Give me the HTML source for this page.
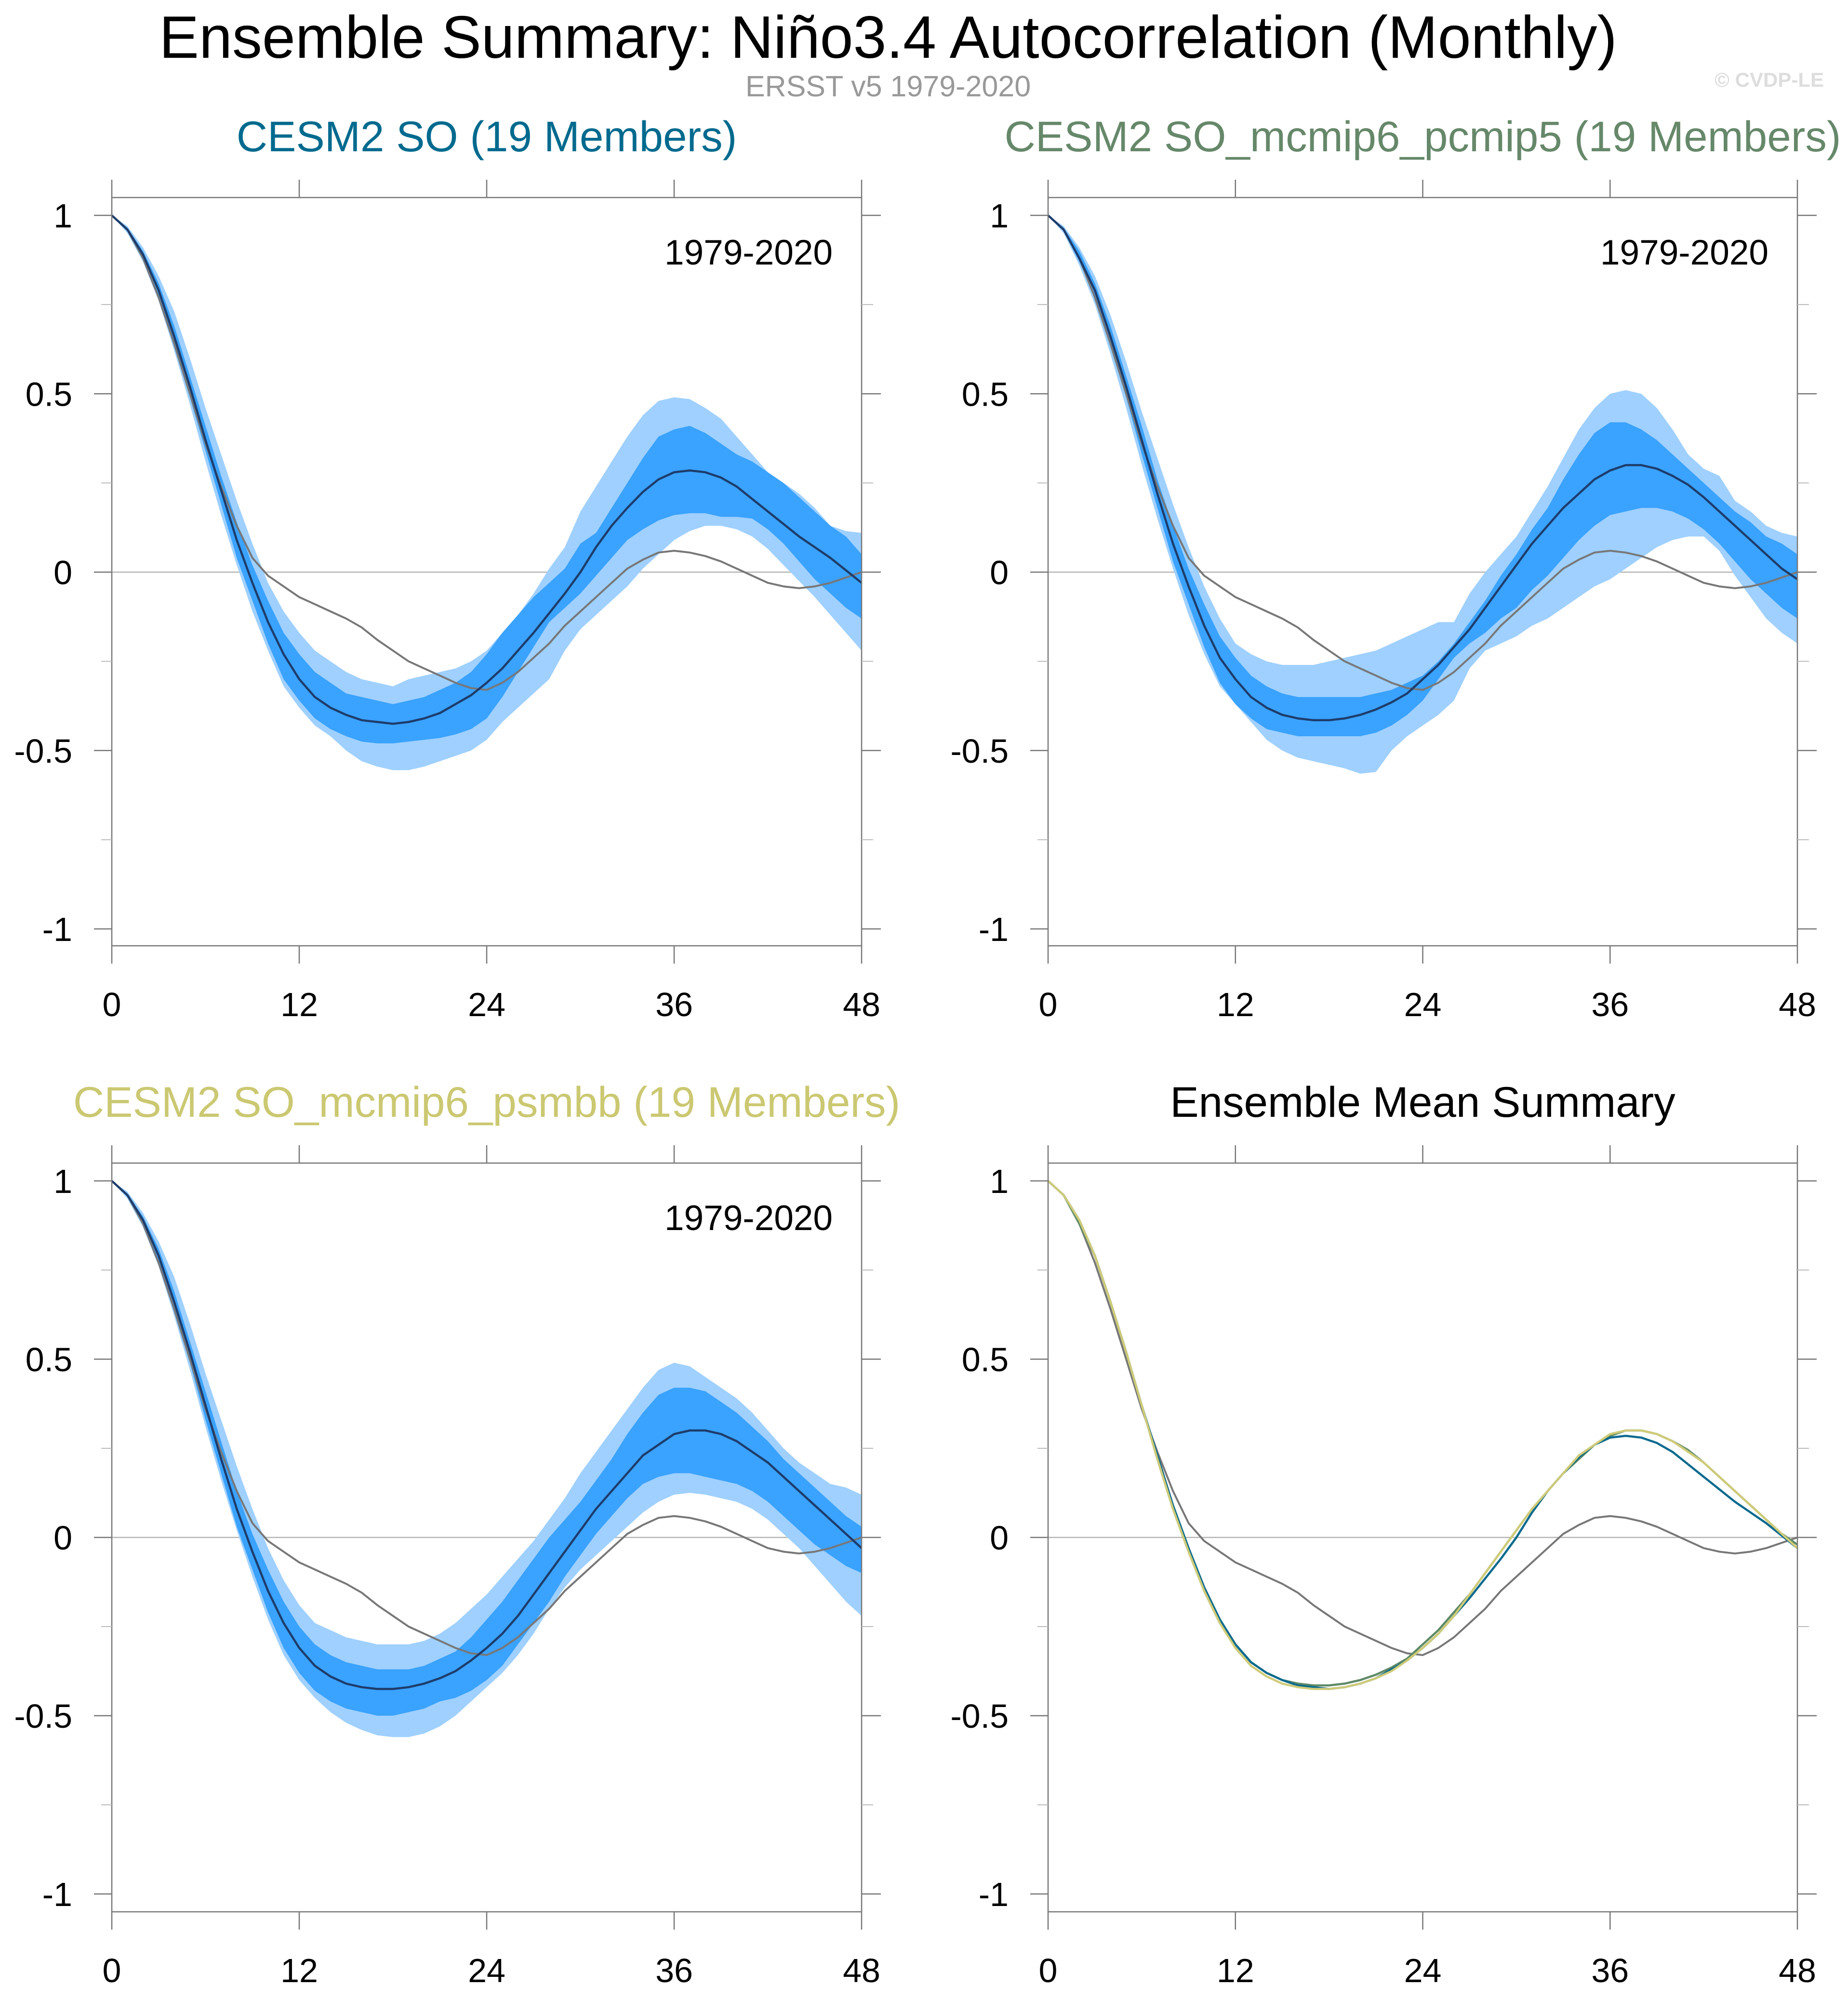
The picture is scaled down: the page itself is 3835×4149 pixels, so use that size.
<!DOCTYPE html>
<html><head><meta charset="utf-8">
<style>
html,body{margin:0;padding:0;background:#fff;}
svg{display:block;font-family:"Liberation Sans",sans-serif;}
</style></head>
<body>
<svg id="chart" width="3835" height="4149" viewBox="0 0 3835 4149" xmlns="http://www.w3.org/2000/svg">
<rect width="3835" height="4149" fill="#fff"/>
<text x="1843" y="120" font-size="124" text-anchor="middle" fill="#000">Ensemble Summary: Niño3.4 Autocorrelation (Monthly)</text>
<text x="1843" y="200" font-size="61" text-anchor="middle" fill="#999">ERSST v5 1979-2020</text>
<text x="3785" y="180" font-size="42" font-weight="bold" text-anchor="end" fill="#ddd">© CVDP-LE</text>
<g id="panels"></g>
</svg>
<script>
const months = [0,1,2,3,4,5,6,7,8,9,10,11,12,13,14,15,16,17,18,19,20,21,22,23,24,25,26,27,28,29,30,31,32,33,34,35,36,37,38,39,40,41,42,43,44,45,46,47,48];
const xTicks = [0,12,24,36,48];
const yTicks = [1,0.5,0,-0.5,-1];
const yMinor = [0.75,0.25,-0.25,-0.75];
const yTickLabels = ["1","0.5","0","-0.5","-1"];
const panelTitles = ["CESM2 SO (19 Members)","CESM2 SO_mcmip6_pcmip5 (19 Members)","CESM2 SO_mcmip6_psmbb (19 Members)","Ensemble Mean Summary"];
const periodLabel = "1979-2020";

const obs = [1,.96,.88,.77,.64,.5,.36,.24,.13,.04,-.01,-.04,-.07,-.09,-.11,-.13,-.155,-.19,-.22,-.25,-.27,-.29,-.31,-.325,-.33,-.31,-.28,-.24,-.2,-.15,-.11,-.07,-.03,.01,.035,.055,.06,.055,.045,.03,.01,-.01,-.03,-.04,-.045,-.04,-.03,-.015,0];

const mean1 = [1,.96,.89,.79,.66,.52,.37,.23,.09,-.03,-.14,-.23,-.3,-.35,-.38,-.4,-.415,-.42,-.425,-.42,-.41,-.395,-.37,-.345,-.31,-.27,-.22,-.17,-.115,-.06,0,.07,.13,.18,.225,.26,.28,.285,.28,.265,.24,.205,.17,.135,.1,.07,.04,.005,-.03];
const darkHi1 = [1,.965,.9,.81,.69,.55,.41,.27,.14,.02,-.08,-.17,-.23,-.28,-.31,-.34,-.35,-.36,-.37,-.36,-.35,-.33,-.31,-.28,-.23,-.17,-.12,-.07,-.03,.01,.08,.11,.18,.25,.32,.38,.4,.41,.39,.36,.33,.31,.28,.25,.21,.17,.13,.1,.05];
const darkLo1 = [1,.955,.88,.77,.63,.49,.34,.19,.04,-.08,-.2,-.3,-.36,-.41,-.44,-.46,-.475,-.48,-.48,-.475,-.47,-.465,-.455,-.44,-.41,-.35,-.28,-.21,-.14,-.1,-.06,-.01,.04,.09,.12,.145,.16,.165,.165,.155,.155,.15,.12,.08,.03,-.02,-.06,-.1,-.13];
const lightHi1 = [1,.97,.91,.83,.73,.6,.46,.33,.2,.08,-.03,-.11,-.17,-.22,-.25,-.28,-.3,-.31,-.32,-.3,-.29,-.28,-.27,-.25,-.22,-.17,-.12,-.06,.01,.07,.17,.24,.31,.38,.44,.48,.49,.485,.46,.43,.38,.33,.28,.25,.22,.18,.13,.115,.11];
const lightLo1 = [1,.95,.87,.76,.62,.47,.31,.16,.02,-.11,-.22,-.32,-.38,-.43,-.46,-.5,-.53,-.545,-.555,-.555,-.545,-.53,-.515,-.5,-.47,-.42,-.38,-.34,-.3,-.22,-.16,-.12,-.08,-.04,.01,.05,.09,.115,.13,.13,.12,.1,.065,.02,-.025,-.07,-.12,-.17,-.22];

const mean2 = [1,.96,.88,.79,.66,.52,.37,.22,.08,-.04,-.15,-.24,-.3,-.35,-.38,-.4,-.41,-.415,-.415,-.41,-.4,-.385,-.365,-.34,-.3,-.26,-.21,-.16,-.1,-.04,.02,.08,.13,.18,.22,.26,.285,.3,.3,.29,.27,.245,.21,.17,.13,.09,.05,.01,-.02];
const darkHi2 = [1,.965,.9,.81,.69,.55,.41,.26,.13,.01,-.09,-.18,-.24,-.29,-.32,-.34,-.35,-.35,-.35,-.35,-.35,-.34,-.33,-.31,-.29,-.25,-.2,-.14,-.08,-.01,.05,.12,.18,.26,.33,.39,.42,.42,.4,.37,.33,.29,.25,.21,.17,.14,.1,.08,.05];
const darkLo2 = [1,.955,.87,.77,.63,.49,.33,.18,.03,-.09,-.21,-.31,-.37,-.41,-.44,-.45,-.46,-.46,-.46,-.46,-.46,-.45,-.43,-.4,-.36,-.3,-.24,-.2,-.17,-.13,-.1,-.05,-.01,.04,.09,.13,.16,.17,.18,.18,.17,.15,.12,.08,.03,-.02,-.06,-.1,-.13];
const lightHi2 = [1,.97,.91,.83,.72,.59,.45,.32,.19,.07,-.04,-.13,-.2,-.23,-.25,-.26,-.26,-.26,-.25,-.24,-.23,-.22,-.2,-.18,-.16,-.14,-.14,-.06,0,.05,.1,.17,.24,.32,.4,.46,.5,.51,.5,.46,.4,.33,.29,.27,.2,.17,.13,.11,.1];
const lightLo2 = [1,.95,.86,.75,.61,.46,.3,.15,.01,-.12,-.23,-.32,-.37,-.42,-.47,-.5,-.52,-.53,-.54,-.55,-.565,-.56,-.5,-.46,-.43,-.4,-.36,-.27,-.22,-.2,-.18,-.15,-.13,-.1,-.07,-.04,-.02,.01,.04,.07,.09,.1,.1,.06,-.01,-.07,-.13,-.17,-.2];

const mean3 = [1,.96,.89,.79,.66,.52,.37,.22,.08,-.04,-.15,-.24,-.31,-.36,-.39,-.41,-.42,-.425,-.425,-.42,-.41,-.395,-.375,-.345,-.31,-.27,-.22,-.16,-.1,-.04,.02,.08,.13,.18,.23,.26,.29,.3,.3,.29,.27,.24,.21,.17,.13,.09,.05,.01,-.03];
const darkHi3 = [1,.965,.9,.81,.69,.55,.41,.27,.13,.01,-.09,-.18,-.25,-.3,-.33,-.35,-.36,-.37,-.37,-.37,-.36,-.34,-.32,-.28,-.23,-.18,-.12,-.06,0,.05,.1,.16,.22,.29,.35,.4,.42,.42,.41,.38,.35,.31,.27,.22,.18,.14,.1,.06,.03];
const darkLo3 = [1,.955,.88,.77,.63,.49,.33,.18,.03,-.09,-.21,-.31,-.38,-.43,-.46,-.48,-.49,-.5,-.5,-.49,-.48,-.46,-.45,-.43,-.4,-.36,-.3,-.24,-.18,-.11,-.05,.01,.06,.11,.15,.17,.18,.18,.17,.16,.15,.13,.1,.06,.02,-.02,-.05,-.08,-.1];
const lightHi3 = [1,.97,.91,.83,.73,.6,.46,.33,.2,.08,-.03,-.12,-.19,-.24,-.26,-.28,-.29,-.3,-.3,-.3,-.29,-.27,-.24,-.2,-.16,-.11,-.06,-.01,.05,.11,.18,.24,.3,.36,.42,.47,.49,.48,.45,.42,.39,.35,.3,.25,.21,.18,.15,.14,.12];
const lightLo3 = [1,.95,.87,.76,.62,.47,.31,.16,.02,-.11,-.23,-.33,-.4,-.45,-.49,-.52,-.54,-.555,-.56,-.56,-.55,-.53,-.5,-.46,-.42,-.38,-.33,-.27,-.2,-.14,-.09,-.05,-.01,.03,.07,.1,.12,.125,.12,.11,.1,.08,.05,.01,-.03,-.08,-.13,-.18,-.22];

const NS = "http://www.w3.org/2000/svg";
const root = document.getElementById("panels");
function mk(tag, attrs, parent){
  const e = document.createElementNS(NS, tag);
  for (const k in attrs) e.setAttribute(k, attrs[k]);
  (parent||root).appendChild(e);
  return e;
}
const layouts = [
  {x0:232, x1:1788, top:447, bot:1928, fTop:410, fBot:1963},
  {x0:2175, x1:3730, top:447, bot:1928, fTop:410, fBot:1963},
  {x0:232, x1:1788, top:2451, bot:3931, fTop:2414, fBot:3968},
  {x0:2175, x1:3730, top:2451, bot:3931, fTop:2414, fBot:3968}
];
const titleColors = ["#006a8e","#66886a","#cbc872","#000"];
const LIGHT = "#9fd0ff", DARK = "#3aa2ff", MEANC = "#1d3c6a", OBSC = "#777";

function drawPanel(i, bands){
  const L = layouts[i];
  const g = mk("g", {});
  
  
  const sx = m => L.x0 + (L.x1 - L.x0) * m / 48;
  const sy = v => L.top + (L.bot - L.top) * (1 - v) / 2;
  const cx = (L.x0 + L.x1) / 2;
  const t = mk("text", {x:cx, y:L.fTop - 96, "font-size":89, "text-anchor":"middle", fill:titleColors[i]}, g);
  t.textContent = panelTitles[i];
  
  
  function area(hi, lo, col, name){
    let d = "";
    months.forEach((m,k)=>{ d += (k?"L":"M") + sx(m).toFixed(1) + "," + sy(hi[k]).toFixed(1); });
    for (let k = months.length-1; k >= 0; k--) d += "L" + sx(months[k]).toFixed(1) + "," + sy(lo[k]).toFixed(1);
    const p = mk("path", {d:d+"Z", fill:col, stroke:"none"}, g);
    
    
  }
  function line(vals, col, w, name){
    let d = "";
    months.forEach((m,k)=>{ d += (k?"L":"M") + sx(m).toFixed(1) + "," + sy(vals[k]).toFixed(1); });
    const p = mk("path", {d:d, fill:"none", stroke:col, "stroke-width":w, "stroke-linejoin":"round"}, g);
    
    
  }
  const z = mk("line", {x1:L.x0, x2:L.x1, y1:sy(0), y2:sy(0), stroke:"#b5b5b5", "stroke-width":2.5}, g);
  
  
  if (bands.light) {
    area(bands.light[0], bands.light[1], LIGHT, "light-spread-band");
    area(bands.dark[0], bands.dark[1], DARK, "dark-spread-band");
  }
  line(obs, OBSC, 4, "observed-line");
  bands.means.forEach((mm, j) => line(mm[0], mm[1], 4.5, "ensemble-mean-line-" + (j+1)));
  const fr = mk("rect", {x:L.x0, y:L.fTop, width:L.x1-L.x0, height:L.fBot-L.fTop, fill:"none", stroke:"#777", "stroke-width":2.5}, g);
  
  
  yTicks.forEach((v,k)=>{
    const y = sy(v);
    mk("line", {x1:L.x0-37, x2:L.x0, y1:y, y2:y, stroke:"#777", "stroke-width":2.5}, g);
    mk("line", {x1:L.x1, x2:L.x1+40, y1:y, y2:y, stroke:"#777", "stroke-width":2.5}, g);
    const tl = mk("text", {x:L.x0-82, y:y+25, "font-size":70, "text-anchor":"end", fill:"#000"}, g);
    tl.textContent = yTickLabels[k];
    
    
  });
  yMinor.forEach(v=>{
    const y = sy(v);
    mk("line", {x1:L.x0-22, x2:L.x0, y1:y, y2:y, stroke:"#bbb", "stroke-width":2}, g);
    mk("line", {x1:L.x1, x2:L.x1+24, y1:y, y2:y, stroke:"#bbb", "stroke-width":2}, g);
  });
  xTicks.forEach(m=>{
    const x = sx(m);
    mk("line", {x1:x, x2:x, y1:L.fTop-37, y2:L.fTop, stroke:"#777", "stroke-width":2.5}, g);
    mk("line", {x1:x, x2:x, y1:L.fBot, y2:L.fBot+37, stroke:"#777", "stroke-width":2.5}, g);
    const tl = mk("text", {x:x, y:L.fBot+146, "font-size":70, "text-anchor":"middle", fill:"#000"}, g);
    tl.textContent = String(m);
    
    
  });
  if (bands.light) {
    const pl = mk("text", {x:L.x1-60, y:L.top+102, "font-size":73, "text-anchor":"end", fill:"#000"}, g);
    pl.textContent = periodLabel;
    
    
  }
}
drawPanel(0, {light:[lightHi1, lightLo1], dark:[darkHi1, darkLo1], means:[[mean1, MEANC]]});
drawPanel(1, {light:[lightHi2, lightLo2], dark:[darkHi2, darkLo2], means:[[mean2, MEANC]]});
drawPanel(2, {light:[lightHi3, lightLo3], dark:[darkHi3, darkLo3], means:[[mean3, MEANC]]});
drawPanel(3, {means:[[mean2, "#5f8a66"], [mean1, "#0a6a8e"], [mean3, "#cfcb78"]]});
</script>
</body></html>
